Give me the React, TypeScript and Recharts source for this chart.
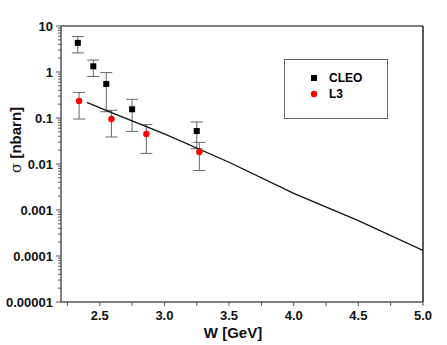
import React from "react";
import {
  ComposedChart,
  Scatter,
  ErrorBar,
  XAxis,
  YAxis,
  ReferenceLine,
} from "recharts";

// CLEO points (W, sigma, lower, upper)
const cleoW = [2.33, 2.45, 2.55, 2.75, 3.25];
const cleoSigma = [4.3, 1.33, 0.55, 0.155, 0.052];
const cleoLow = [2.6, 0.8, 0.137, 0.051, 0.0215];
const cleoHigh = [5.9, 1.82, 0.97, 0.255, 0.082];

// L3 points
const l3W = [2.34, 2.59, 2.86, 3.27];
const l3Sigma = [0.234, 0.095, 0.045, 0.0182];
const l3Low = [0.095, 0.0387, 0.017, 0.0072];
const l3High = [0.36, 0.147, 0.0716, 0.0296];

// theory curve
const curveW = [2.4, 2.6, 3.0, 3.5, 4.0, 4.5, 5.0];
const curveSigma = [0.219, 0.128, 0.045, 0.0109, 0.00229, 0.000585, 0.000132];

const xTicks = [2.25, 2.5, 2.75, 3.0, 3.25, 3.5, 3.75, 4.0, 4.25, 4.5, 4.75, 5.0];
const xMajor = [2.5, 3.0, 3.5, 4.0, 4.5, 5.0];
const yMajor = [0.00001, 0.0001, 0.001, 0.01, 0.1, 1, 10];
const yLabels = ["0.00001", "0.0001", "0.001", "0.01", "0.1", "1", "10"];

const yTicks: number[] = [];
yMajor.forEach((d, i) => {
  yTicks.push(d);
  if (i < yMajor.length - 1) [2, 3, 4, 5, 6, 7, 8, 9].forEach((m) => yTicks.push(+(d * m).toPrecision(3)));
});

const cleo = cleoW.map((w, i) => ({ w, s: cleoSigma[i], err: [cleoSigma[i] - cleoLow[i], cleoHigh[i] - cleoSigma[i]] }));
const l3 = l3W.map((w, i) => ({ w, s: l3Sigma[i], err: [l3Sigma[i] - l3Low[i], l3High[i] - l3Sigma[i]] }));
const curve = curveW.map((w, i) => ({ w, s: curveSigma[i] }));

const axisColor = "#555";
const font = "'Liberation Sans', Arial, sans-serif";

const XTick = ({ x, y, payload }: any) => {
  const major = xMajor.some((m) => Math.abs(m - payload.value) < 1e-6);
  return (
    <g>
      <line x1={x} x2={x} y1={y} y2={y + 4} stroke={axisColor} strokeWidth={1} />
      {major && (
        <text x={x} y={y + 18} textAnchor="middle" fontSize={13} fontWeight="bold" fill="#111" fontFamily={font}>
          {payload.value.toFixed(1)}
        </text>
      )}
    </g>
  );
};

const YTick = ({ x, y, payload }: any) => {
  const idx = yMajor.findIndex((m) => Math.abs(m - payload.value) / m < 1e-6);
  return (
    <g>
      <line x1={x - (idx >= 0 ? 5 : 3)} x2={x} y1={y} y2={y} stroke={axisColor} strokeWidth={1} />
      {idx >= 0 && (
        <text x={x - 8} y={y} dy="0.35em" textAnchor="end" fontSize={13} fontWeight="bold" fill="#111" fontFamily={font}>
          {yLabels[idx]}
        </text>
      )}
    </g>
  );
};

const Square = ({ cx, cy }: any) => <rect x={cx - 3} y={cy - 3} width={6} height={6} fill="#000" />;
const Dot = ({ cx, cy }: any) => <circle cx={cx} cy={cy} r={3.2} fill="#ff0000" />;

const LegendBox = () => (
  <div
    style={{
      position: "absolute",
      left: 284,
      top: 59,
      width: 104,
      height: 60,
      border: "1px solid #666",
      boxSizing: "border-box",
      fontFamily: font,
      fontWeight: "bold",
      fontSize: 12,
      padding: "10px 0 0 24px",
      background: "#fff",
    }}
  >
    <div style={{ display: "flex", alignItems: "center", height: 16 }}>
      <svg width={20} height={10}>
        <rect x={2} y={2} width={6} height={6} fill="#000" />
      </svg>
      <span>CLEO</span>
    </div>
    <div style={{ display: "flex", alignItems: "center", height: 16 }}>
      <svg width={20} height={10}>
        <circle cx={5} cy={5} r={3.2} fill="#ff0000" />
      </svg>
      <span>L3</span>
    </div>
  </div>
);

export default function App() {
  return (
    <div style={{ position: "absolute", left: 0, top: 0, width: 447, height: 345, background: "#fff" }}>
      <ComposedChart width={447} height={345} margin={{ top: 26, right: 24, left: 0, bottom: 0 }}>
        <XAxis
          type="number"
          dataKey="w"
          domain={[2.2, 5.0]}
          ticks={xTicks}
          interval={0}
          tickSize={0}
          tickMargin={0}
          tickLine={false}
          tick={<XTick />}
          height={43}
          stroke={axisColor}
          strokeWidth={1.5}
          allowDataOverflow
          label={{
            content: () => (
              <text x={233} y={338} textAnchor="middle" fontSize={15} fontWeight="bold" fill="#111" fontFamily={font}>
                W [GeV]
              </text>
            ),
          }}
        />
        <YAxis
          type="number"
          dataKey="s"
          scale="log"
          domain={[0.00001, 10]}
          ticks={yTicks}
          interval={0}
          tickSize={0}
          tickMargin={0}
          tickLine={false}
          tick={<YTick />}
          width={61}
          stroke={axisColor}
          strokeWidth={1.5}
          allowDataOverflow
          label={{
            content: () => (
              <text
                x={16}
                y={140}
                dy="0.35em"
                textAnchor="middle"
                transform="rotate(-90, 16, 140)"
                fontSize={15}
                fontWeight="bold"
                fill="#111"
                fontFamily={font}
              >
                <tspan fontWeight="normal" fontFamily="'DejaVu Serif', serif">σ</tspan> [nbarn]
              </text>
            ),
          }}
        />
        <ReferenceLine y={10} stroke={axisColor} strokeWidth={1.5} />
        <ReferenceLine x={5} stroke="#222" strokeWidth={1.5} />
        <Scatter
          name="curve"
          data={curve}
          line={{ stroke: "#111", strokeWidth: 1.3 }}
          lineType="joint"
          shape={() => null}
          legendType="none"
          isAnimationActive={false}
        />
        <Scatter name="CLEO" data={cleo} shape={<Square />} isAnimationActive={false}>
          <ErrorBar dataKey="err" direction="y" width={6} stroke="#666" strokeWidth={1} />
        </Scatter>
        <Scatter name="L3" data={l3} shape={<Dot />} isAnimationActive={false}>
          <ErrorBar dataKey="err" direction="y" width={6} stroke="#666" strokeWidth={1} />
        </Scatter>
      </ComposedChart>
      <LegendBox />
    </div>
  );
}
